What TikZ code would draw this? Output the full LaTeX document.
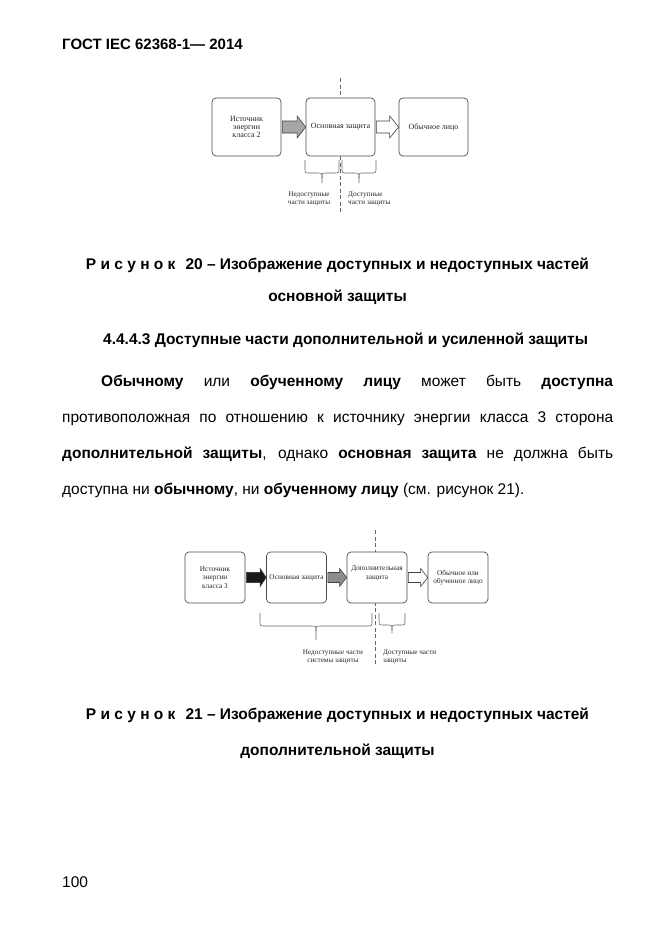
\documentclass[tikz,border=0pt]{standalone}
\usepackage{fontspec}
\setmainfont{Liberation Sans}
\newfontfamily\figfont{Liberation Serif}
\usetikzlibrary{calc}
\newcommand\blockarr[6]{%
  \draw[#3] let \p1=($(#1)+(1,0)$), \p2=(#2) in
    (\x1,\y1+#4) -- (\x2-#6,\y1+#4) -- (\x2-#6,\y1+#5) -- (\x2,\y1) --
    (\x2-#6,\y1-#5) -- (\x2-#6,\y1-#4) -- (\x1,\y1-#4) -- cycle;}
\newcommand\curlybr[5]{%
  \draw[bracestyle] (#1,#3) -- (#1,#4-5) .. controls (#1,#4) .. (#1+5,#4)
    -- ({(#1+#2)/2-5},#4) .. controls ({(#1+#2)/2},#4) .. ({(#1+#2)/2},#4+5) -- ({(#1+#2)/2},#5);
  \draw[bracestyle] (#2,#3) -- (#2,#4-5) .. controls (#2,#4) .. (#2-5,#4)
    -- ({(#1+#2)/2+5},#4) .. controls ({(#1+#2)/2},#4) .. ({(#1+#2)/2},#4+5);}
\begin{document}
\begin{tikzpicture}[x=1pt,y=-1pt,
  box/.style={draw=black!70, line width=0.7pt, rounded corners=4pt,
    minimum width=69pt, minimum height=58pt, inner sep=1pt, align=center,
    text=black!85, font=\figfont\fontsize{8}{8.4}\selectfont},
  boxs/.style={box, minimum width=60pt, minimum height=51pt,
    font=\figfont\fontsize{7.3}{8.6}\selectfont},
  lbl/.style={inner sep=0pt, text=black!85, font=\figfont\fontsize{7.2}{8.4}\selectfont},
  bracestyle/.style={draw=black!60, line width=0.6pt},
  divider/.style={draw=black!60, line width=0.6pt, dash pattern=on 4pt off 2.5pt},
  arrline/.style={draw=black!75, line width=0.6pt},
  bodytxt/.style={anchor=mid west, inner sep=0pt, font=\fontsize{15.5}{17}\selectfont},
  captxt/.style={anchor=mid, inner sep=0pt, font=\bfseries\fontsize{15.5}{17}\selectfont},
]
\useasboundingbox (0,0) rectangle (661,935);

% header
\node[bodytxt, font=\bfseries\fontsize{15}{17}\selectfont] (hdr) at (62,47) {ГОСТ IEC 62368-1— 2014};

% ---------------- Figure 20 ----------------
\coordinate (d20t) at (340,78);
\coordinate (d20b) at (340,212);
\draw[divider] (d20t) -- (d20b);
\node[box] (s2) at (246.5,127) {Источник\\энергии\\класса 2};
\node[box, fill=white] (bp) at (340.5,127) {Основная защита};
\node[box] (op) at (433.5,127) {Обычное лицо};
\blockarr{s2.east}{bp.west}{arrline, fill=black!35}{6pt}{11pt}{8.5pt}
\blockarr{bp.east}{op.west}{arrline, fill=white}{6pt}{11pt}{9pt}
\curlybr{305}{339}{160}{173}{183}
\curlybr{342}{376}{160}{173}{183}
\node[lbl, align=center] (inacc20) at (309,199) {Недоступные\\части защиты};
\node[lbl, align=left, anchor=west] (acc20) at (348,199) {Доступные\\части защиты};

% captions
\node[captxt] (cap20a) at (337.5,267) {Р и с у н о к\hspace{10pt}20 – Изображение доступных и недоступных частей};
\node[captxt] (cap20b) at (337.5,299) {основной защиты};
\node[bodytxt, font=\bfseries\fontsize{15.5}{17}\selectfont] (sec) at (103,342) {4.4.4.3 Доступные части дополнительной и усиленной защиты};

% body paragraph
\node[bodytxt] (p1) at (101,384) {\makebox[512pt][s]{\textbf{Обычному} или \textbf{обученному} \textbf{лицу} может быть \textbf{доступна}}};
\node[bodytxt] (p2) at (62,420) {\makebox[551pt][s]{противоположная по отношению к источнику энергии класса 3 сторона}};
\node[bodytxt] (p3) at (62,456) {\makebox[551pt][s]{\textbf{дополнительной защиты}, однако \textbf{основная защита} не должна быть}};
\node[bodytxt] (p4) at (62,492) {доступна ни \textbf{обычному}, ни \textbf{обученному лицу} (см. рисунок 21).};

% ---------------- Figure 21 ----------------
\coordinate (d21t) at (375,530);
\coordinate (d21b) at (375,665);
\draw[divider] (d21t) -- (d21b);
\node[boxs] (s3) at (215,577.5) {Источник\\энергии\\класса 3};
\node[boxs] (bp2) at (296.5,577.5) {Основная защита};
\node[boxs, fill=white] (sp) at (377,577.5) {Дополнительная\\защита\\[1pt]};
\node[boxs] (op2) at (458,577.5) {Обычное или\\обученное лицо};
\blockarr{s3.east}{bp2.west}{arrline, fill=black!90}{5pt}{9pt}{6pt}
\blockarr{bp2.east}{sp.west}{arrline, fill=black!45}{5pt}{9pt}{7pt}
\blockarr{sp.east}{op2.west}{arrline, fill=white}{5pt}{9pt}{7pt}
\curlybr{260}{372}{613}{626}{640}
\curlybr{379}{405}{613}{625}{633}
\node[lbl, align=center] (inacc21) at (333,657) {Недоступные части\\системы защиты};
\node[lbl, align=left, anchor=west] (acc21) at (383,657) {Доступные части\\защиты};

\node[captxt] (cap21a) at (337.5,717) {Р и с у н о к\hspace{10pt}21 – Изображение доступных и недоступных частей};
\node[captxt] (cap21b) at (337.5,753) {дополнительной защиты};

\node[bodytxt] (pg) at (62,885) {100};
\end{tikzpicture}
\end{document}
